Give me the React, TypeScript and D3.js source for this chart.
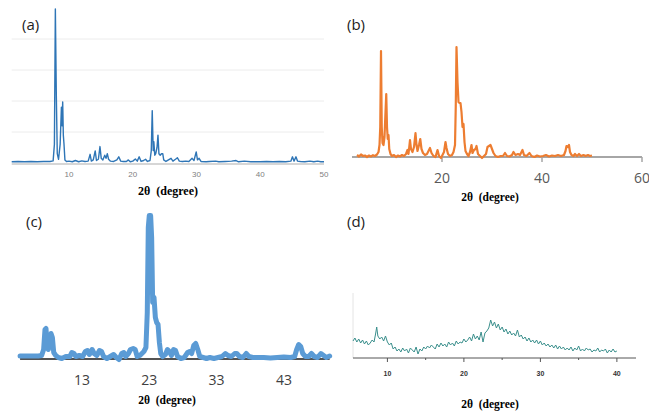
import React from 'react';
import * as d3 from 'd3';

type Pt = [number, number];

const panelLabels = ['(a)', '(b)', '(c)', '(d)'];
const xTitle = '2θ  (degree)';
const ticksA = [10, 20, 30, 40, 50];
const gridA = [1, 2, 3, 4];
const ticksB = [20, 40, 60];
const ticksC = [13, 23, 33, 43];
const ticksD = [10, 20, 30, 40];
const minorD = [15, 25, 35];

const seriesA: Pt[] = [
  [1, 0.04], [2, 0.05], [3, 0.04], [4, 0.05], [5, 0.04], [6, 0.05], [7, 0.05], [7.5, 0.07], [7.7, 0.6], [7.85, 4.97],
  [8.0, 2.2], [8.15, 0.3], [8.35, 0.12], [8.6, 0.6], [8.8, 1.8], [8.9, 1.2], [9.0, 1.97], [9.1, 0.9], [9.2, 0.63],
  [9.35, 0.1], [9.6, 0.05], [10, 0.06], [10.5, 0.04], [11, 0.08], [11.5, 0.04], [12, 0.07], [12.5, 0.05], [13, 0.06],
  [13.3, 0.28], [13.5, 0.06], [13.8, 0.1], [14.1, 0.39], [14.3, 0.08], [14.6, 0.12], [14.85, 0.53], [15.05, 0.15],
  [15.3, 0.1], [15.6, 0.25], [15.8, 0.15], [16.0, 0.3], [16.2, 0.12], [16.5, 0.06], [17, 0.05], [17.5, 0.1], [17.8, 0.2],
  [18.1, 0.06], [18.5, 0.05], [19, 0.05], [19.3, 0.1], [19.6, 0.04], [20, 0.06], [20.4, 0.13], [20.7, 0.06], [21, 0.2],
  [21.3, 0.05], [21.7, 0.08], [22, 0.12], [22.3, 0.05], [22.7, 0.08], [22.9, 0.4], [23.05, 1.69], [23.2, 0.4], [23.3, 0.69],
  [23.45, 0.25], [23.6, 0.3], [23.8, 0.5], [23.95, 0.9], [24.1, 0.3], [24.3, 0.25], [24.5, 0.3], [24.7, 0.3], [24.85, 0.1],
  [25.2, 0.05], [25.6, 0.1], [26, 0.15], [26.3, 0.06], [26.7, 0.12], [27, 0.17], [27.3, 0.06], [27.8, 0.05], [28.3, 0.06],
  [28.8, 0.05], [29.3, 0.15], [29.6, 0.08], [29.95, 0.36], [30.15, 0.1], [30.4, 0.15], [30.7, 0.05], [31.5, 0.04],
  [32, 0.05], [33, 0.06], [33.5, 0.04], [34.5, 0.05], [35.5, 0.06], [36.2, 0.08], [36.6, 0.04], [37.5, 0.06], [38.5, 0.04],
  [40, 0.04], [41, 0.05], [42, 0.04], [43, 0.05], [44, 0.04], [44.8, 0.06], [45.05, 0.2], [45.3, 0.06], [45.6, 0.2],
  [45.85, 0.06], [46.3, 0.05], [47, 0.04], [47.8, 0.06], [48.4, 0.04], [49, 0.06], [49.5, 0.04], [50, 0.04],
];

const seriesB: Pt[] = [
  [3, 2], [3.4, 0.5], [3.8, 2.5], [4.2, 1], [4.6, 1.5], [5, 0], [5.4, 1.5], [5.8, 0.5], [6.2, 1.8], [6.6, 1], [7, 2.5],
  [7.3, 5], [7.5, 12], [7.65, 30], [7.8, 106], [7.95, 30], [8.1, 14], [8.3, 12], [8.5, 20], [8.7, 45], [8.85, 63],
  [9.0, 30], [9.15, 18], [9.3, 22], [9.45, 8], [9.7, 3], [10, 1], [10.4, 2], [10.8, 0], [11.2, 1.5], [11.6, 0.5],
  [12, 2], [12.4, 1], [12.8, 3], [13.1, 7], [13.3, 3], [13.6, 17], [13.8, 8], [14.1, 5], [14.4, 10], [14.7, 24],
  [14.9, 12], [15.1, 6], [15.4, 12], [15.65, 18], [15.9, 8], [16.2, 4], [16.6, 2], [17, 3], [17.3, 6], [17.6, 9],
  [17.9, 4], [18.3, 1], [18.7, 0], [19.1, 7], [19.4, 1], [19.8, -1], [20.1, 2], [20.4, 5], [20.7, 15], [20.9, 9],
  [21.2, 3], [21.6, 1], [22, 2], [22.3, 5], [22.6, 12], [22.75, 50], [22.9, 110], [23.1, 75], [23.3, 55], [23.5, 54],
  [23.7, 54], [23.9, 45], [24.1, 30], [24.3, 33], [24.5, 15], [24.7, 6], [25, 3], [25.3, 1], [25.6, 5], [25.9, 12],
  [26.1, 4], [26.4, 7], [26.7, 8], [26.9, 11], [27.2, 3], [27.6, 1], [28, -1], [28.4, 1], [28.8, 3], [29.1, 10],
  [29.4, 11], [29.7, 12], [30, 8], [30.3, 4], [30.7, 1], [31.2, 0], [31.7, 1], [32.2, 1], [32.6, 4], [33, 1],
  [33.5, 0.5], [34, 2], [34.3, 5], [34.7, 2], [35.2, 3], [35.6, 2], [36.1, 7], [36.4, 2], [36.9, 1], [37.5, 4],
  [37.9, 1], [38.5, 0], [39, 1.5], [39.6, 0.5], [40.2, 1], [40.8, 2], [41.4, 0.5], [42, 1.5], [42.6, 1], [43.2, 2],
  [43.8, 1], [44.4, 2], [44.7, 6], [44.9, 11], [45.2, 10], [45.4, 12], [45.6, 5], [45.9, 2], [46.3, 1], [46.6, 3],
  [47, 1], [47.4, 3], [47.8, 1], [48.3, 2], [48.7, 1], [49.2, 2], [49.6, 1], [50, 1.5],
];

const seriesC: Pt[] = [
  [3.8, 1.5], [4.5, 1.5], [5.5, 1.5], [6.5, 1.5], [7.0, 2], [7.3, 8], [7.5, 28], [7.65, 29], [7.85, 10], [8.0, 8],
  [8.2, 15], [8.4, 24], [8.6, 20], [8.8, 5], [9.1, 2], [9.5, 0], [10, -1], [10.6, 1], [11.2, 1], [11.5, 5], [11.8, 4],
  [12.1, 1], [12.6, 2], [13.1, 1], [13.5, 6], [13.8, 7], [14.1, 3], [14.5, 8], [14.8, 4], [15.2, 2], [15.6, 7],
  [15.9, 6], [16.2, 1], [16.7, -1], [17.2, 1], [17.7, 3], [18.1, 0], [18.5, -2], [18.9, 4], [19.2, 5], [19.5, 1],
  [19.9, 4], [20.2, 8], [20.6, 9], [20.9, 8], [21.2, 1], [21.6, 2], [21.9, 4], [22.2, 6], [22.5, 10], [22.7, 45],
  [22.85, 130], [23.0, 142], [23.2, 142], [23.35, 120], [23.5, 55], [23.7, 60], [23.9, 40], [24.1, 35], [24.3, 33],
  [24.5, 15], [24.7, 4], [25, 1], [25.4, 3], [25.7, 8], [26.0, 6], [26.3, 2], [26.6, 8], [26.9, 7], [27.2, 1],
  [27.7, -1], [28.2, 0], [28.7, 5], [29.0, 6], [29.3, 4], [29.6, 12], [29.9, 14], [30.2, 8], [30.5, 1], [31, 0],
  [31.5, -1], [32, 0], [32.6, -1], [33.2, 0], [33.8, 1], [34.3, 4], [34.7, 2], [35.2, 1], [35.7, 4], [36, 4],
  [36.4, 1], [36.9, 0], [37.4, 4], [37.8, 1], [38.4, 0], [39, 0], [40, 0], [41, -0.5], [42, 0], [43, 0.5], [44, 0],
  [44.6, 1], [44.9, 8], [45.2, 13], [45.5, 11], [45.8, 4], [46.2, 1], [46.7, 1], [47.1, 4], [47.5, 1], [48, 0],
  [48.5, 4], [48.9, 2], [49.3, 0], [49.8, 1.5],
];

const seriesD: Pt[] = [
  [5.5, 17], [5.75, 20], [6.0, 16], [6.25, 19], [6.5, 15], [6.75, 18], [7.0, 14], [7.25, 17], [7.5, 13], [7.75, 15],
  [8.0, 18], [8.25, 16], [8.45, 24], [8.6, 31], [8.75, 22], [9.0, 19], [9.25, 21], [9.5, 17], [9.75, 22], [10.0, 16],
  [10.25, 13], [10.5, 15], [10.75, 9], [11.0, 11], [11.25, 7], [11.5, 9], [11.75, 6], [12.0, 10], [12.25, 7], [12.5, 9],
  [12.75, 5], [13.0, 10], [13.25, 8], [13.5, 6], [13.75, 11], [14.0, 4], [14.25, 9], [14.5, 7], [14.75, 11], [15.0, 9],
  [15.25, 12], [15.5, 10], [15.75, 13], [16.0, 11], [16.25, 9], [16.5, 14], [16.75, 11], [17.0, 15], [17.25, 12],
  [17.5, 14], [17.75, 11], [18.0, 16], [18.25, 13], [18.5, 15], [18.75, 12], [19.0, 17], [19.25, 14], [19.5, 16],
  [19.75, 15], [20.0, 19], [20.25, 16], [20.5, 18], [20.75, 21], [21.0, 17], [21.25, 24], [21.5, 19], [21.75, 22],
  [22.0, 18], [22.25, 26], [22.5, 16], [22.75, 25], [23.0, 27], [23.25, 30], [23.5, 38], [23.75, 32], [24.0, 36],
  [24.25, 30], [24.5, 34], [24.75, 28], [25.0, 31], [25.25, 26], [25.5, 29], [25.75, 24], [26.0, 27], [26.25, 23],
  [26.5, 25], [26.75, 22], [27.0, 28], [27.25, 21], [27.5, 23], [27.75, 19], [28.0, 21], [28.25, 17], [28.5, 20],
  [28.75, 16], [29.0, 18], [29.25, 15], [29.5, 18], [29.75, 14], [30.0, 17], [30.25, 13], [30.5, 15], [30.75, 12],
  [31.0, 14], [31.25, 11], [31.5, 13], [31.75, 10], [32.0, 13], [32.25, 9], [32.5, 12], [32.75, 9], [33.0, 11],
  [33.25, 8], [33.5, 10], [33.75, 8], [34.0, 11], [34.25, 7], [34.5, 10], [34.75, 8], [35.0, 12], [35.25, 7],
  [35.5, 9], [35.75, 7], [36.0, 10], [36.25, 8], [36.5, 9], [36.75, 6], [37.0, 8], [37.25, 7], [37.5, 10], [37.75, 6],
  [38.0, 8], [38.25, 7], [38.5, 9], [38.75, 5], [39.0, 8], [39.25, 6], [39.5, 9], [39.75, 6], [40.0, 7],
];

const serif = '"Liberation Serif", "Times New Roman", serif';
const sans = '"Liberation Sans", Arial, sans-serif';
const calibriLike = '"Open Sans", "Noto Sans", sans-serif';

export default function App() {
  // Panel (a)
  const xA = d3.scaleLinear().domain([1, 50]).range([11.7, 324]);
  const yA = d3.scaleLinear().domain([0, 5]).range([163, 8]);
  const lineA = d3.line<Pt>().x(d => xA(d[0])).y(d => yA(d[1]));

  // Panel (b)
  const xB = d3.scaleLinear().domain([2, 60]).range([352, 642]);
  const yB = d3.scaleLinear().domain([0, 110]).range([157, 47]);
  const lineB = d3.line<Pt>().x(d => xB(d[0])).y(d => yB(d[1]));

  // Panel (c)
  const xC = d3.scaleLinear().domain([3, 50]).range([14.7, 331]);
  const yC = d3.scaleLinear().domain([0, 145]).range([357.5, 212.5]);
  const lineC = d3.line<Pt>().x(d => xC(d[0])).y(d => yC(d[1]));

  // Panel (d)
  const xD = d3.scaleLinear().domain([5.5, 42.5]).range([353, 636]);
  const yD = d3.scaleLinear().domain([0, 40]).range([358, 318]);
  const lineD = d3.line<Pt>().x(d => xD(d[0])).y(d => yD(d[1]));

  return (
    <svg width={649} height={412} style={{ position: 'absolute', left: 0, top: 0, background: '#fff' }}>
      <rect x={0} y={0} width={649} height={412} fill="#fff" />

      {/* (a) */}
      {gridA.map(g => (
        <line key={'ga' + g} x1={xA(1)} x2={xA(50)} y1={yA(g)} y2={yA(g)} stroke="#ececec" strokeWidth={1} />
      ))}
      <line x1={xA(1)} x2={xA(50)} y1={yA(0) + 1} y2={yA(0) + 1} stroke="#c8c8c8" strokeWidth={1.5} />
      <path d={lineA(seriesA) || ''} fill="none" stroke="#2e75b6" strokeWidth={1.4} strokeLinejoin="round" />
      {ticksA.map(t => (
        <text key={'ta' + t} x={xA(t)} y={177} fontSize={8} fill="#808080" textAnchor="middle" fontFamily={sans}>{t}</text>
      ))}
      <text x={168} y={195} fontSize={12} fontWeight="bold" textAnchor="middle" fontFamily={serif} fill="#000" style={{ whiteSpace: 'pre' }}>{xTitle}</text>
      <text x={22} y={30} fontSize={15} fontFamily={calibriLike} fill="#222">{panelLabels[0]}</text>

      {/* (b) */}
      <line x1={xB(2)} x2={xB(60)} y1={yB(0)} y2={yB(0)} stroke="#a6a6a6" strokeWidth={2} />
      {ticksB.map(t => (
        <line key={'tkb' + t} x1={xB(t)} x2={xB(t)} y1={yB(0)} y2={yB(0) + 5} stroke="#a6a6a6" strokeWidth={1.5} />
      ))}
      <path d={lineB(seriesB) || ''} fill="none" stroke="#ed7d31" strokeWidth={2.2} strokeLinejoin="round" />
      {ticksB.map(t => (
        <text key={'tb' + t} x={xB(t)} y={183} fontSize={14} fill="#595959" textAnchor="middle" fontFamily={calibriLike}>{t}</text>
      ))}
      <text x={490} y={201} fontSize={11.5} fontWeight="bold" textAnchor="middle" fontFamily={serif} fill="#000" style={{ whiteSpace: 'pre' }}>{xTitle}</text>
      <text x={347} y={30} fontSize={15} fontFamily={calibriLike} fill="#222">{panelLabels[1]}</text>

      {/* (c) */}
      <line x1={xC(3.8)} x2={xC(49.8)} y1={359} y2={359} stroke="#1a1a1a" strokeWidth={1.5} />
      <path d={lineC(seriesC) || ''} fill="none" stroke="#5b9bd5" strokeWidth={5} strokeLinejoin="round" strokeLinecap="round" />
      {ticksC.map(t => (
        <text key={'tc' + t} x={xC(t)} y={385} fontSize={14} fill="#404040" textAnchor="middle" fontFamily={calibriLike}>{t}</text>
      ))}
      <text x={167} y={404} fontSize={11.5} fontWeight="bold" textAnchor="middle" fontFamily={serif} fill="#000" style={{ whiteSpace: 'pre' }}>{xTitle}</text>
      <text x={26} y={227} fontSize={15} fontFamily={calibriLike} fill="#222">{panelLabels[2]}</text>

      {/* (d) */}
      <line x1={xD(5.5)} x2={xD(5.5)} y1={293} y2={yD(0)} stroke="#e4e4e4" strokeWidth={1} />
      <line x1={xD(5.5)} x2={xD(42.5)} y1={yD(0)} y2={yD(0)} stroke="#555" strokeWidth={1} />
      {ticksD.map(t => (
        <line key={'tkd' + t} x1={xD(t)} x2={xD(t)} y1={yD(0)} y2={yD(0) + 4} stroke="#555" strokeWidth={1} />
      ))}
      {minorD.map(t => (
        <line key={'mkd' + t} x1={xD(t)} x2={xD(t)} y1={yD(0)} y2={yD(0) + 2} stroke="#555" strokeWidth={1} />
      ))}
      <path d={lineD(seriesD) || ''} fill="none" stroke="#3a8f8c" strokeWidth={1} strokeLinejoin="round" />
      {ticksD.map(t => (
        <text key={'td' + t} x={xD(t)} y={375.5} fontSize={7} fontWeight="bold" fill="#333" textAnchor="middle" fontFamily={sans}>{t}</text>
      ))}
      <text x={490} y={408} fontSize={11.5} fontWeight="bold" textAnchor="middle" fontFamily={serif} fill="#000" style={{ whiteSpace: 'pre' }}>{xTitle}</text>
      <text x={347} y={227} fontSize={15} fontFamily={calibriLike} fill="#222">{panelLabels[3]}</text>
    </svg>
  );
}
